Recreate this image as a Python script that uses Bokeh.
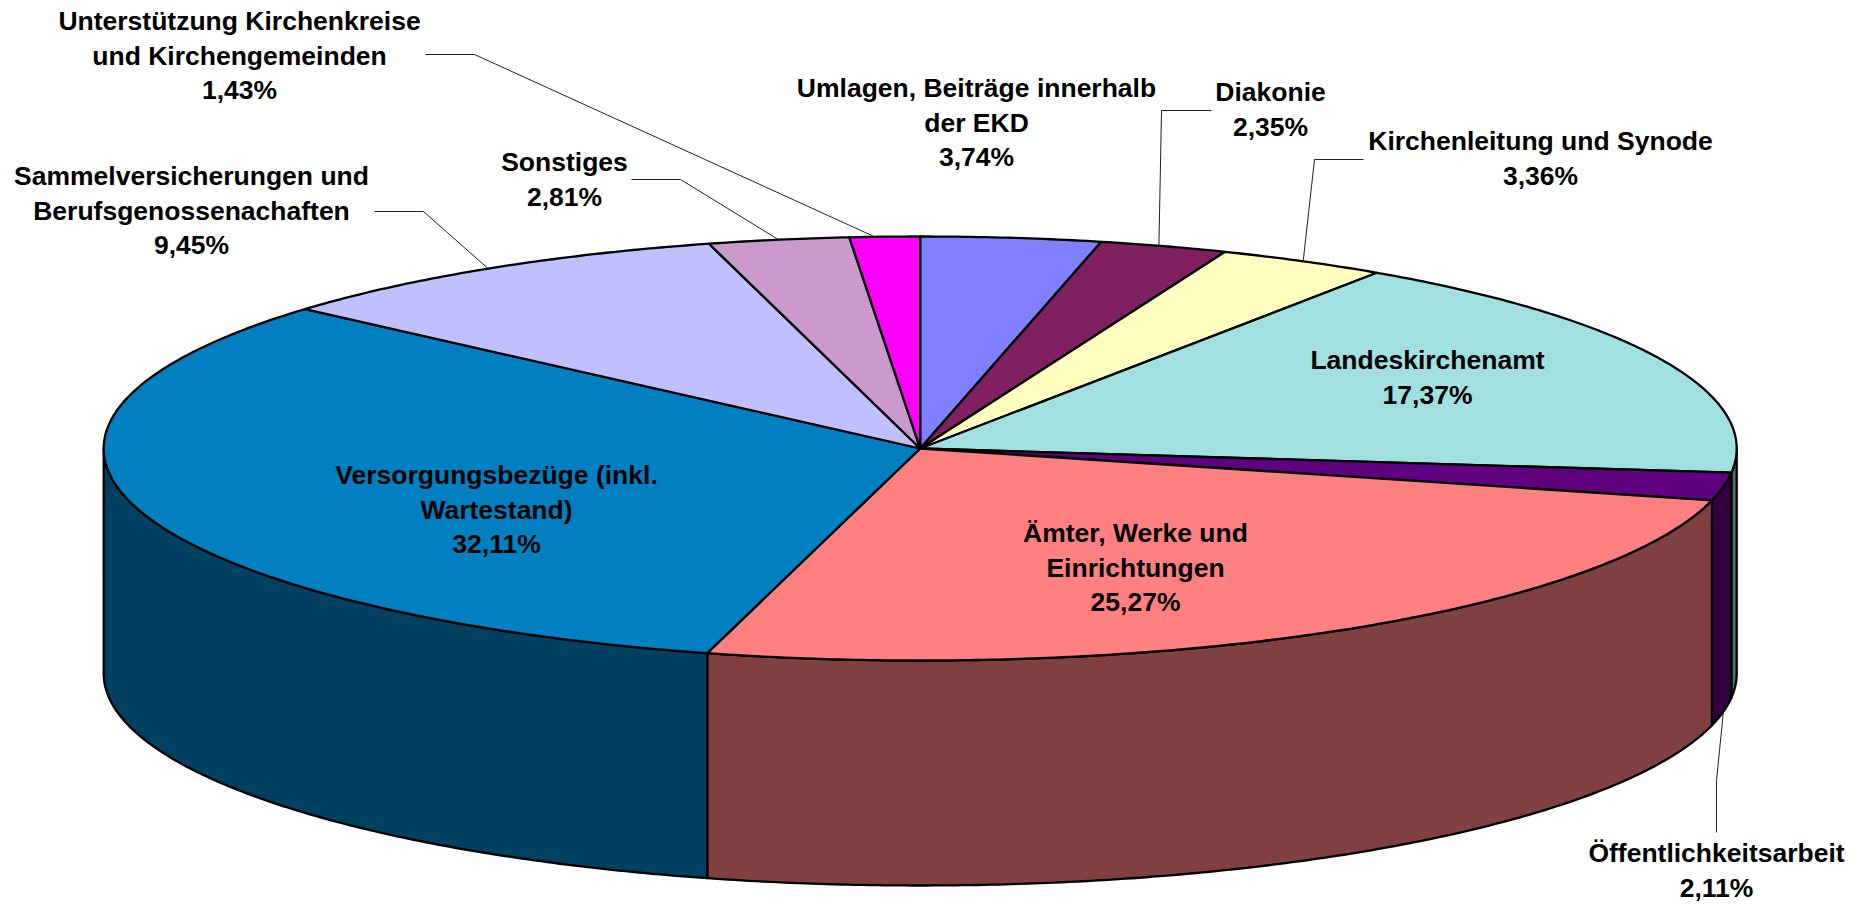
import math
from bokeh.plotting import figure
from bokeh.models import Range1d, ColumnDataSource
from bokeh.core.properties import value
from bokeh.embed import file_html
from bokeh.resources import INLINE

# ---- data (clockwise from 12 o'clock) ----
categories = ["Umlagen, Beiträge innerhalb der EKD", "Diakonie", "Kirchenleitung und Synode",
              "Landeskirchenamt", "Öffentlichkeitsarbeit", "Ämter, Werke und Einrichtungen",
              "Versorgungsbezüge (inkl. Wartestand)", "Sammelversicherungen und Berufsgenossenachaften",
              "Sonstiges", "Unterstützung Kirchenkreise und Kirchengemeinden"]
shares = [3.74, 2.35, 3.36, 17.37, 2.11, 25.27, 32.11, 9.45, 2.81, 1.43]
label_lines = [["Umlagen, Beiträge innerhalb", "der EKD"], ["Diakonie"], ["Kirchenleitung und Synode"],
               ["Landeskirchenamt"], ["Öffentlichkeitsarbeit"], ["Ämter, Werke und", "Einrichtungen"],
               ["Versorgungsbezüge (inkl.", "Wartestand)"], ["Sammelversicherungen und", "Berufsgenossenachaften"],
               ["Sonstiges"], ["Unterstützung Kirchenkreise", "und Kirchengemeinden"]]

# ---- styles ----
top_colors = ["#8080FF", "#802060", "#FFFFC0", "#A0E0E0", "#600080", "#FF8080", "#0080C0", "#C0C0FF", "#CC99CC", "#FF00FF"]
side_colors = ["#404080", "#401030", "#808060", "#507070", "#300040", "#804040", "#004060", "#606080", "#664C66", "#800080"]

# ---- layout (page pixels) ----
W, H = 1860, 904
CX, CY, RX, RY, DEPTH = 919.7, 448, 816.5, 212, 225
FONT_PX, PITCH = 26.5, 34.5
label_x = [976, 1270, 1540, 1427, 1716, 1135, 496, 191, 564, 239]
label_y = [87.5, 91.5, 140.5, 359.5, 852.5, 532.5, 474.5, 175.5, 161.5, 20.7]
# leader: start of the stub, elbows; the last point is found on the pie's rim
leader_paths = {1: [(1211, 110), (1161, 110)], 2: [(1363, 159), (1314, 159)],
                4: [(1716, 832), (1716, 780)], 7: [(374, 211), (423, 211)],
                8: [(631, 179), (680, 179)], 9: [(425, 54), (474, 54)]}
leader_nudge = {1: -0.37, 9: -0.7}
# small corrections of the drawn slice edges (degrees) for the reference's 3-D projection
edge_nudge = {1: -0.65, 7: 0.39, 8: 0.27, 9: 0.17}


def pt(deg, dy=0.0):
    a = math.radians(deg)
    return CX + RX * math.sin(a), CY - RY * math.cos(a) + dy


def arc(a, b, dy=0.0):
    n = max(2, int(abs(b - a) * 2) + 1)
    return [pt(a + (b - a) * i / (n - 1), dy) for i in range(n)]


p = figure(width=W, height=H, output_backend="svg", toolbar_location=None,
           x_range=Range1d(0, W), y_range=Range1d(H, 0),
           min_border=0, outline_line_color=None, background_fill_color="white")
p.axis.visible = False
p.grid.visible = False

total = sum(shares)
edges = [0.0]
for s in shares:
    edges.append(edges[-1] + s / total * 360.0)
edges = [e + edge_nudge.get(k, 0.0) for k, e in enumerate(edges)]

# side walls (only the front half of the cylinder is seen)
sx, sy, sc = [], [], []
for i in range(len(shares)):
    a, b = max(edges[i], 90.0), min(edges[i + 1], 270.0)
    if b <= a:
        continue
    poly = arc(a, b) + arc(b, a, DEPTH)
    sx.append([q[0] for q in poly])
    sy.append([q[1] for q in poly])
    sc.append(side_colors[i])
p.patches(sx, sy, fill_color=sc, line_color="black", line_width=2.3, line_join="round")

# top face
tx, ty = [], []
for i in range(len(shares)):
    poly = [(CX, CY)] + arc(edges[i], edges[i + 1])
    tx.append([q[0] for q in poly])
    ty.append([q[1] for q in poly])
p.patches(tx, ty, fill_color=top_colors, line_color="black", line_width=2.3, line_join="round")

# leader lines
lx, ly = [], []
for i, path in leader_paths.items():
    mid = (edges[i] + edges[i + 1]) / 2 + leader_nudge.get(i, 0.0)
    end = pt(mid, DEPTH if 90 < mid < 270 else 0.0)
    pts = path + [end]
    lx.append([q[0] for q in pts])
    ly.append([q[1] for q in pts])
p.multi_line(lx, ly, line_color="#202020", line_width=1)

# labels
txt, xs, ys = [], [], []
for i, lines in enumerate(label_lines):
    rows = lines + [f"{shares[i]:.2f}".replace(".", ",") + "%"]
    for j, r in enumerate(rows):
        txt.append(r)
        xs.append(label_x[i])
        ys.append(label_y[i] + j * PITCH)
src = ColumnDataSource(dict(x=xs, y=ys, text=txt))
p.text("x", "y", text="text", source=src, text_font=value("Liberation Sans"), text_font_style="bold",
       text_font_size=f"{FONT_PX}px", text_color="black", text_align="center", text_baseline="middle")

open("out.html", "w").write(file_html(p, INLINE))
